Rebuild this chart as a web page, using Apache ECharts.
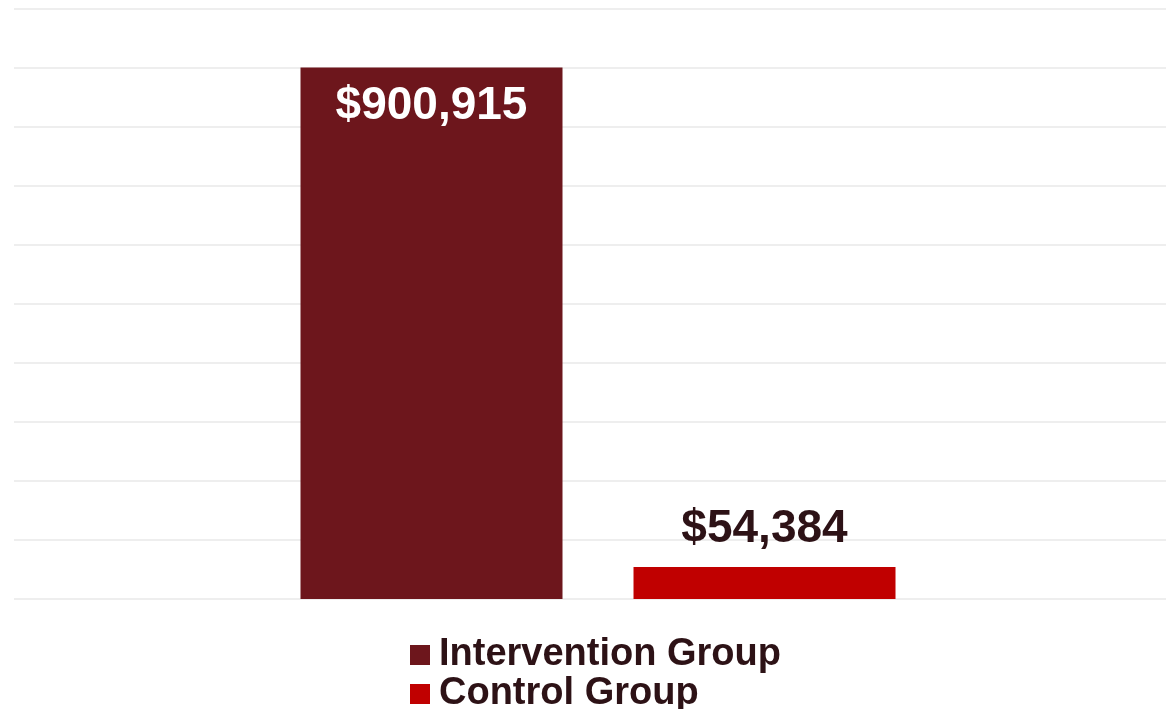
<!DOCTYPE html>
<html>
<head>
<meta charset="utf-8">
<script src="https://cdn.jsdelivr.net/npm/echarts@6/dist/echarts.min.js"></script>
<style>
  html, body { margin: 0; padding: 0; background: #ffffff; }
  #chart { width: 1166px; height: 709px; }
</style>
</head>
<body>
<div id="chart"></div>
<script>
// Total cost by study arm
const categories = ['Total'];
const seriesNames = ['Intervention Group', 'Control Group'];
const interventionValues = [900915];
const controlValues = [54384];
const seriesColors = ['#6d161c', '#c00000'];

const fmt = v => '$' + v.toLocaleString('en-US');
const labelFont = 'Liberation Sans, Arial, sans-serif';

const legendText = {
  color: '#2d1216',
  fontFamily: labelFont,
  fontWeight: 'bold',
  fontSize: 38,
  lineHeight: 38,
  padding: [0, 0, 0, 4]
};

// one legend entry per row, stacked under the plot
const legendRow = (name, top) => ({
  orient: 'vertical',
  left: 405,
  top: top,
  icon: 'rect',
  itemWidth: 20,
  itemHeight: 20,
  data: [name],
  textStyle: legendText
});

const chart = echarts.init(document.getElementById('chart'), null, { renderer: 'canvas' });

chart.setOption({
  backgroundColor: '#ffffff',
  animation: false,
  grid: { left: 14, right: 0, top: 9, bottom: 110, containLabel: false },
  legend: [legendRow(seriesNames[0], 631), legendRow(seriesNames[1], 670)],
  xAxis: {
    type: 'category',
    data: categories,
    axisLine: { show: false },
    axisTick: { show: false },
    axisLabel: { show: false }
  },
  yAxis: {
    type: 'value',
    min: 0,
    max: 1000000,
    interval: 100000,
    axisLine: { show: false },
    axisTick: { show: false },
    axisLabel: { show: false },
    splitLine: { lineStyle: { color: '#eeeeee', width: 2 } }
  },
  series: [
    {
      // empty leading slot: nudges the bar pair slightly right of centre
      name: 'spacer',
      type: 'bar',
      data: ['-'],
      barWidth: 12.6,
      barGap: '27.1%',
      silent: true,
      label: { show: false }
    },
    {
      name: seriesNames[0],
      type: 'bar',
      data: interventionValues,
      barWidth: 262,
      itemStyle: { color: seriesColors[0] },
      label: {
        show: true,
        position: 'insideTop',
        distance: 16,
        formatter: p => fmt(p.value),
        color: '#ffffff',
        fontFamily: labelFont,
        fontWeight: 'bold',
        fontSize: 46
      }
    },
    {
      name: seriesNames[1],
      type: 'bar',
      data: controlValues,
      barWidth: 262,
      itemStyle: { color: seriesColors[1] },
      label: {
        show: true,
        position: 'top',
        distance: 15,
        formatter: p => fmt(p.value),
        color: '#2d1216',
        fontFamily: labelFont,
        fontWeight: 'bold',
        fontSize: 46
      }
    }
  ]
});
</script>
</body>
</html>
